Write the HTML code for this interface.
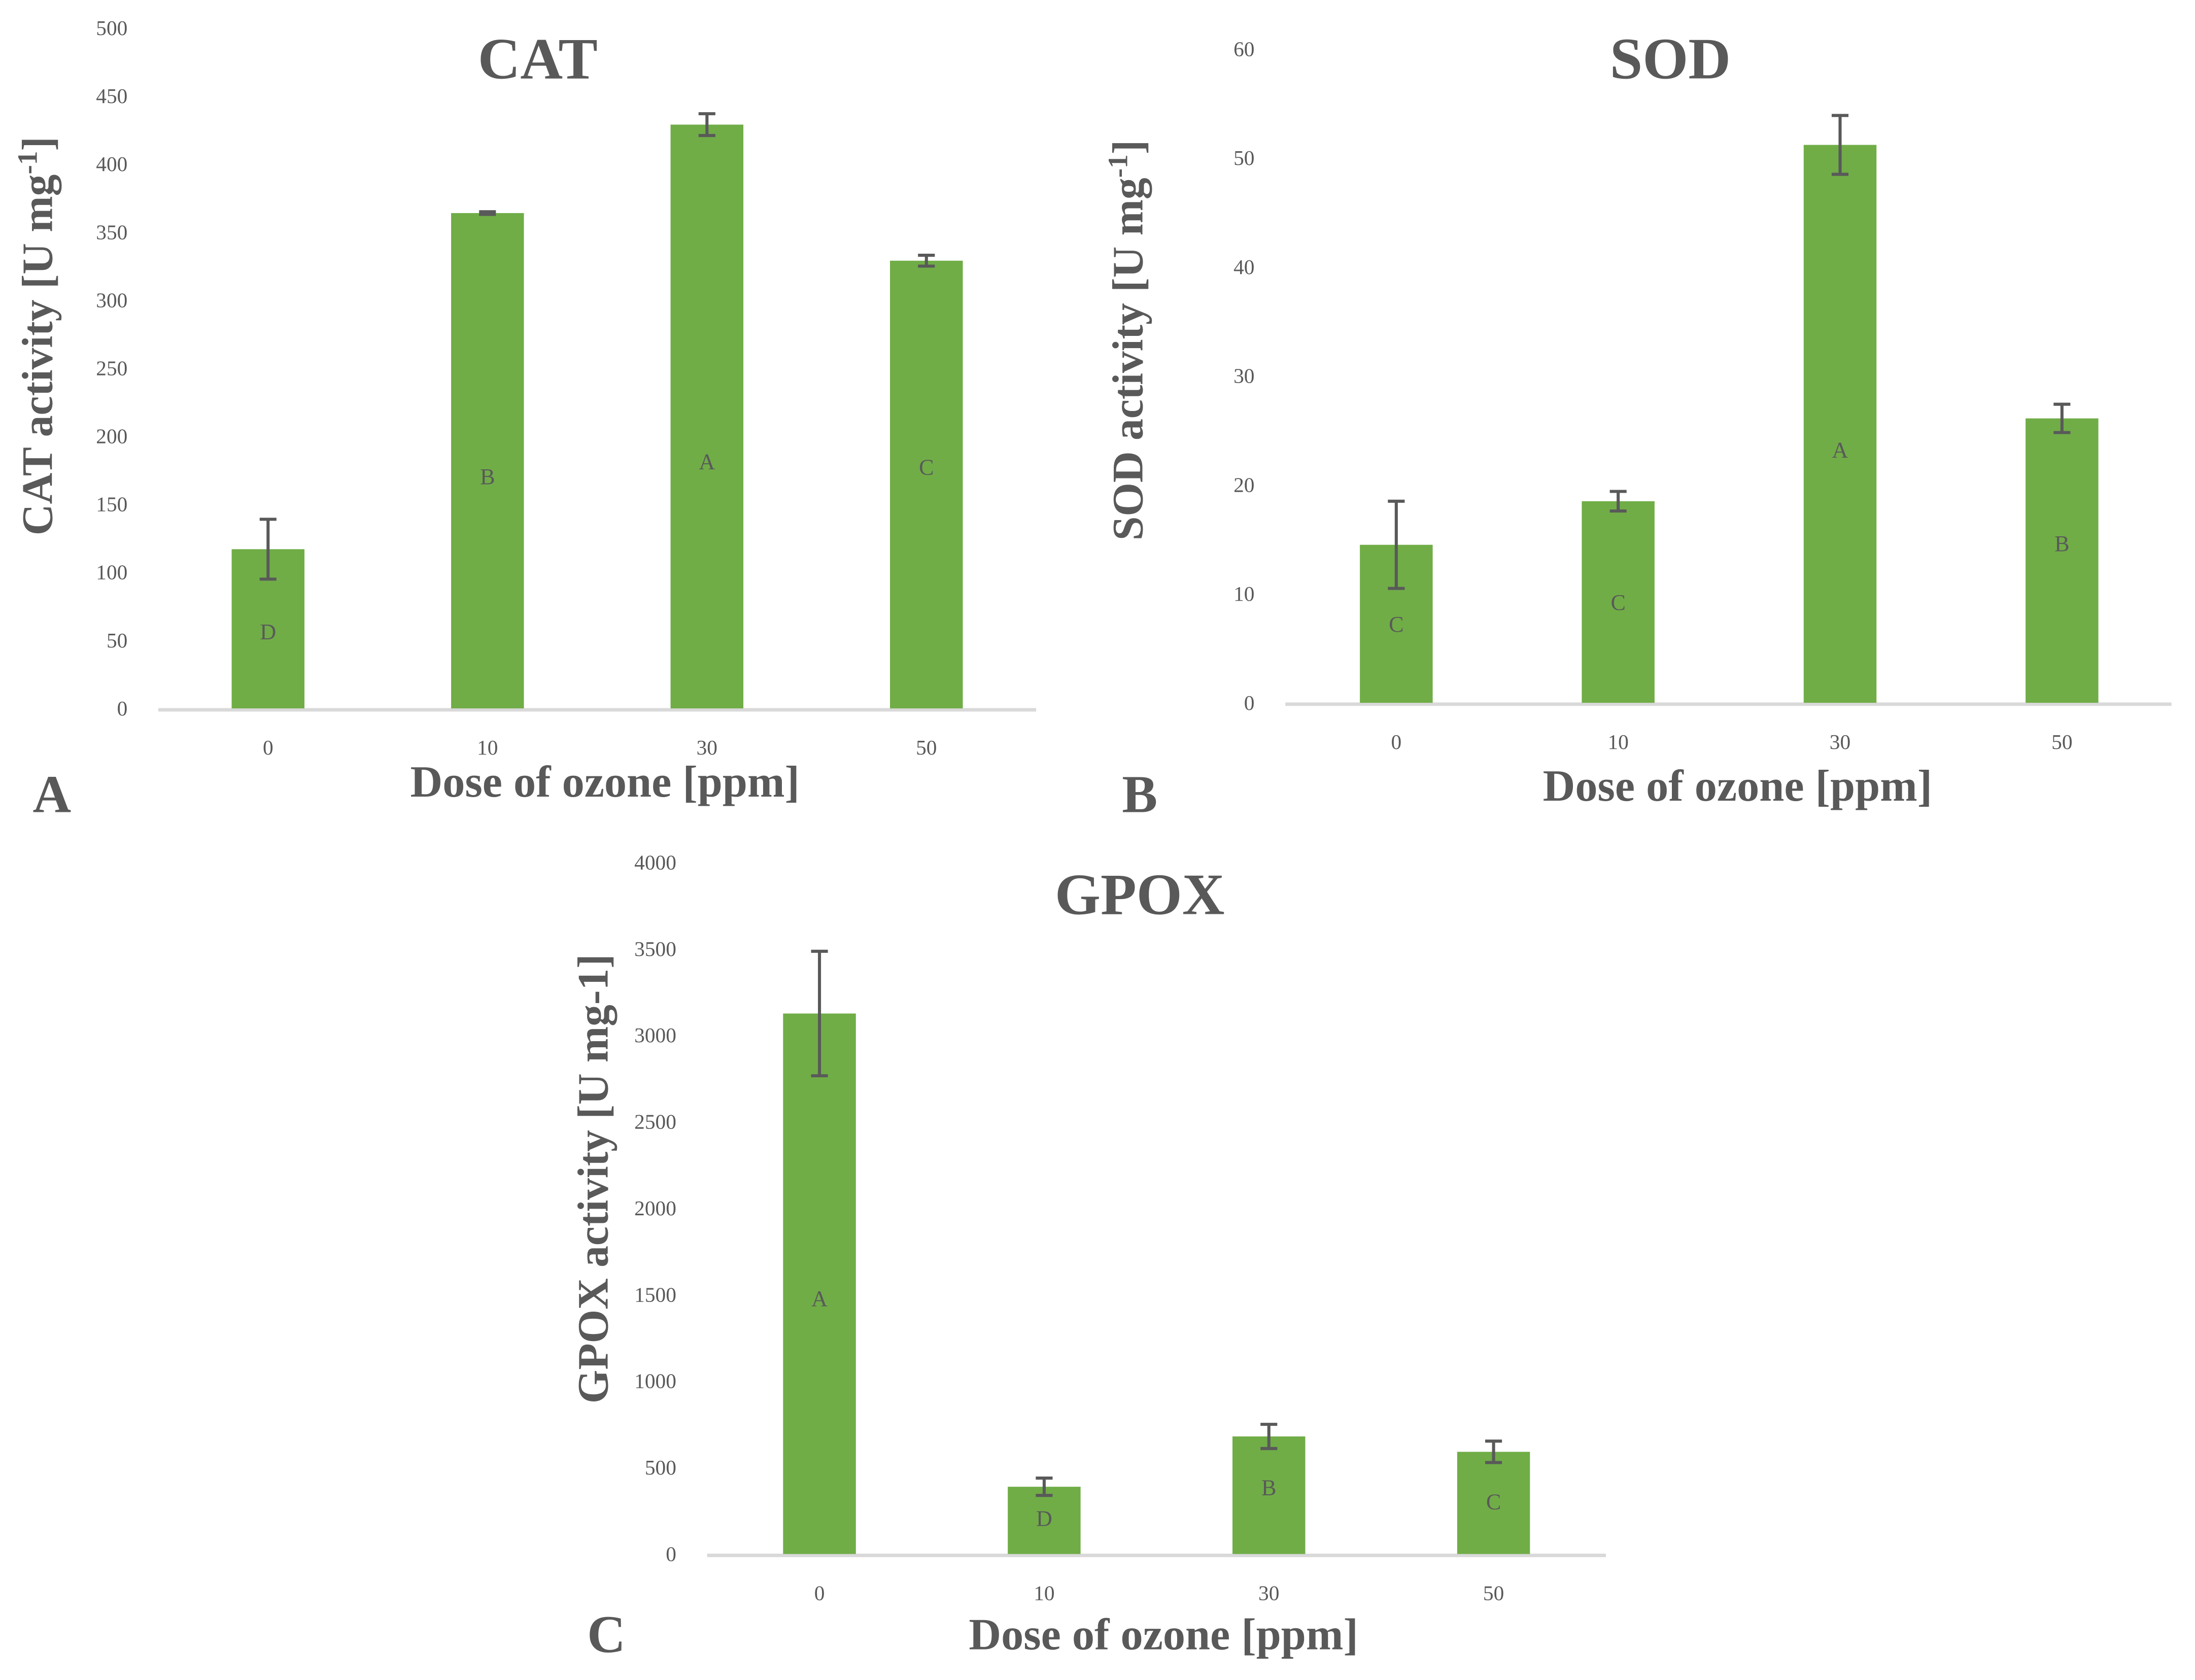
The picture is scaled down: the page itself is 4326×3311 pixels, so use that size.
<!DOCTYPE html>
<html><head><meta charset="utf-8">
<style>
html,body{margin:0;padding:0;background:#fff;}
svg{display:block;}
text{font-family:"Liberation Serif","DejaVu Serif",serif;fill:#595959;}
</style></head>
<body>
<svg width="4326" height="3311" viewBox="0 0 1552 1188" xmlns="http://www.w3.org/2000/svg">
<g id="fig" transform="scale(0.99)"></g>
</svg>
<script>
const categories = ["0","10","30","50"];
const catValues = [117, 364, 429, 329];
const catErrors = [22, 1, 8, 4];
const catLetters = ["D","B","A","C"];
const catLetterPos = [57, 171, 182, 178];
const catTicks = [0,50,100,150,200,250,300,350,400,450,500];
const sodValues = [14.5, 18.5, 51.2, 26.1];
const sodErrors = [4, 0.9, 2.7, 1.3];
const sodLetters = ["C","C","A","B"];
const sodLetterPos = [7.3, 9.3, 23.3, 14.7];
const sodTicks = [0,10,20,30,40,50,60];
const gpoxValues = [3126, 389, 680, 591];
const gpoxErrors = [360, 50, 70, 62];
const gpoxLetters = ["A","D","B","C"];
const gpoxLetterPos = [1482, 210, 389, 308];
const gpoxTicks = [0,500,1000,1500,2000,2500,3000,3500,4000];

const NS = "http://www.w3.org/2000/svg";
const root = document.getElementById('fig');
function mk(tag, attrs, parent){
  const e = document.createElementNS(NS, tag);
  for (const k in attrs) e.setAttribute(k, attrs[k]);
  (parent||root).appendChild(e);
  return e;
}
function drawChart(cfg){
  const g = mk('g', {});
  
  
  const max = cfg.ticks[cfg.ticks.length-1];
  const y = v => cfg.y0 - (v/max)*(cfg.y0 - cfg.yTop);
  const step = (cfg.x1 - cfg.x0)/categories.length;
  const x = i => cfg.x0 + step*(i+0.5);
  cfg.ticks.forEach(t => {
    const tl = mk('text', {x: cfg.x0 - 22, y: y(t)+5, 'text-anchor':'end', 'font-size':15}, g);
    tl.textContent = t;
    
    
  });
  const ax = mk('line', {x1: cfg.x0, x2: cfg.axisEnd, y1: cfg.y0+1, y2: cfg.y0+1, stroke:'#d9d9d9', 'stroke-width':2.5}, g);
  
  
  cfg.values.forEach((v,i) => {
    const bw = 52;
    const b = mk('rect', {x: x(i)-bw/2, y: y(v), width: bw, height: cfg.y0 - y(v), fill:'#70AD47'}, g);
    
    
    const e = cfg.errors[i];
    const eb = mk('path', {d: `M${x(i)},${y(v+e)}V${y(v-e)}M${x(i)-6},${y(v+e)}H${x(i)+6}M${x(i)-6},${y(v-e)}H${x(i)+6}`, stroke:'#595959', 'stroke-width':2.2, fill:'none'}, g);
    
    
    const lt = mk('text', {x: x(i), y: y(cfg.letterPos[i])+6, 'text-anchor':'middle', 'font-size':16}, g);
    lt.textContent = cfg.letters[i];
    
    
    const xl = mk('text', {x: x(i), y: cfg.y0 + 33, 'text-anchor':'middle', 'font-size':15}, g);
    xl.textContent = categories[i];
    
    
  });
  const tt = mk('text', {x: cfg.titleX, y: cfg.titleY, 'text-anchor':'middle', 'font-size':42, 'font-weight':'bold'}, g);
  tt.textContent = cfg.title;
  
  
  const yt = mk('text', {x: 0, y: 0, 'text-anchor':'middle', 'font-size':31, 'font-weight':'bold', transform:`translate(${cfg.yTitleX},${cfg.yTitleY}) rotate(-90)`}, g);
  yt.innerHTML = cfg.yTitle;
  
  
  const xt = mk('text', {x: cfg.xTitleX, y: cfg.xTitleY, 'text-anchor':'middle', 'font-size':32, 'font-weight':'bold'}, g);
  xt.textContent = 'Dose of ozone [ppm]';
  
  
  const pl = mk('text', {x: cfg.panelX, y: cfg.panelY, 'text-anchor':'middle', 'font-size':38, 'font-weight':'bold', fill:'#6f6f6f'}, g);
  pl.textContent = cfg.panel;
  
  
}
drawChart({key:'cat', values:catValues, errors:catErrors, letters:catLetters, letterPos:catLetterPos, ticks:catTicks,
  y0:506, yTop:20, x0:113, x1:740, axisEnd:740, title:'CAT', titleX:384, titleY:56,
  yTitle:'CAT activity [U mg<tspan baseline-shift="super" font-size="20">-1</tspan>]', yTitleX:37, yTitleY:240,
  xTitleX:432, xTitleY:569, panel:'A', panelX:37, panelY:580});
drawChart({key:'sod', values:sodValues, errors:sodErrors, letters:sodLetters, letterPos:sodLetterPos, ticks:sodTicks,
  y0:502, yTop:35, x0:918, x1:1552, axisEnd:1551, title:'SOD', titleX:1193, titleY:56,
  yTitle:'SOD activity [U mg<tspan baseline-shift="super" font-size="20">-1</tspan>]', yTitleX:816, yTitleY:243,
  xTitleX:1241, xTitleY:572, panel:'B', panelX:814, panelY:580});
drawChart({key:'gpox', values:gpoxValues, errors:gpoxErrors, letters:gpoxLetters, letterPos:gpoxLetterPos, ticks:gpoxTicks,
  y0:1110, yTop:616, x0:505, x1:1147, axisEnd:1147, title:'GPOX', titleX:814, titleY:653,
  yTitle:'GPOX activity [U mg-1]', yTitleX:434, yTitleY:842,
  xTitleX:831, xTitleY:1178, panel:'C', panelX:433, panelY:1180});
</script>
</body></html>
